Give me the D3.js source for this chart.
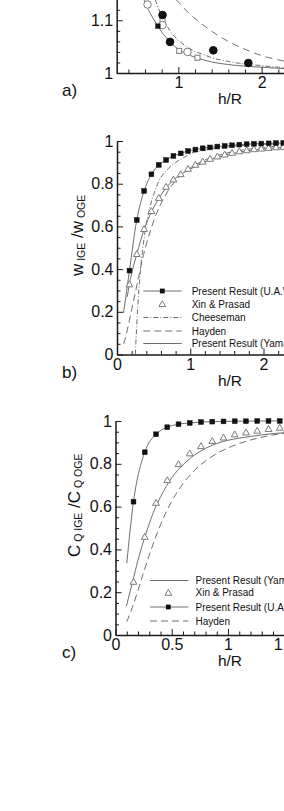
<!DOCTYPE html>
<html><head><meta charset="utf-8">
<script src="https://cdn.jsdelivr.net/npm/d3@7"></script>
<style>
body{margin:0;background:#fff;overflow:hidden}
svg{display:block}
text{font-family:"Liberation Sans",Arial,Helvetica,sans-serif;fill:#111}
</style>
</head><body>
<svg id="fig" width="284" height="811"></svg>
<script>
// ---------- Panel a) data ----------
const aSolidX = [0.58,0.62,0.66,0.70,0.75,0.80,0.85,0.90,1.00,1.10,1.20,1.30,1.40,1.60,1.80,2.00,2.20,2.36];
const aSolidY = [1.142,1.127,1.114,1.103,1.090,1.078,1.068,1.059,1.045,1.036,1.030,1.025,1.021,1.016,1.013,1.011,1.009,1.008];
const aDashDotX = [0.72,0.78,0.85,0.90,1.00,1.10,1.20,1.30,1.40,1.60,1.80,2.00,2.20,2.36];
const aDashDotY = [1.140,1.115,1.093,1.080,1.062,1.050,1.041,1.035,1.029,1.022,1.017,1.014,1.011,1.010];
const aDashX = [0.97,1.05,1.15,1.25,1.35,1.45,1.60,1.80,2.00,2.20,2.36];
const aDashY = [1.140,1.126,1.110,1.097,1.085,1.074,1.060,1.045,1.033,1.025,1.020];
const aFilledCircleX = [0.81,0.90,1.42,1.84];
const aFilledCircleY = [1.110,1.059,1.043,1.019];
const aFilledSquareX = [0.755];
const aFilledSquareY = [1.089];
const aOpenCircleX = [0.63,0.81,1.11];
const aOpenCircleY = [1.130,1.091,1.040];
const aOpenSquareX = [0.81,1.01,1.23];
const aOpenSquareY = [1.100,1.042,1.029];
const aXMajor = [1,2], aXLabels = ["1","2"];
const aXMinor = [0.4,0.6,0.8,1.2,1.4,1.6,1.8,2.2];
const aYMajor = [1,1.1], aYLabels = ["1","1.1"];
const aYMinor = [1.02,1.04,1.06,1.08,1.12];

// ---------- Panel b) data ----------
const bX = [0.17,0.27,0.37,0.47,0.57,0.67,0.77,0.87,0.97,1.07,1.17,1.27,1.37,1.47,1.57,1.67,1.77,1.87,1.97,2.07,2.17,2.27];
const bUavY = [0.393,0.630,0.766,0.844,0.888,0.911,0.930,0.942,0.953,0.960,0.966,0.970,0.974,0.977,0.980,0.983,0.985,0.987,0.988,0.989,0.990,0.991];
const bUavStartX = [0.09], bUavStartY = [0.195];
const bXinY = [0.329,0.471,0.588,0.672,0.734,0.786,0.820,0.845,0.870,0.889,0.904,0.917,0.928,0.937,0.945,0.952,0.957,0.962,0.965,0.968,0.971,0.973];
const bYamaX = [0.14,0.17,0.27,0.37,0.47,0.57,0.67,0.80,1.00,1.20,1.40,1.60,1.80,2.00,2.36];
const bYamaY = [0.27,0.33,0.47,0.585,0.668,0.730,0.780,0.826,0.868,0.902,0.926,0.943,0.955,0.963,0.972];
const bCheeseX = [0.25,0.27,0.30,0.35,0.40,0.45,0.50,0.60,0.70,0.80,0.90,1.00,1.20,1.40,1.60,1.80,2.00,2.36];
const bCheeseY = [0.0,0.14,0.31,0.49,0.61,0.69,0.75,0.83,0.87,0.90,0.92,0.94,0.957,0.968,0.976,0.981,0.984,0.988];
const bHaydenX = [0.09,0.12,0.15,0.20,0.25,0.30,0.35,0.40,0.50,0.60,0.70,0.80,0.90,1.00,1.20,1.40,1.60,1.80,2.00,2.36];
const bHaydenY = [0.05,0.085,0.13,0.21,0.29,0.37,0.45,0.515,0.625,0.707,0.768,0.813,0.848,0.874,0.911,0.935,0.951,0.962,0.970,0.979];
const bXMajor = [0,1,2], bXLabels = ["0","1","2"];
const bXMinor = [0.2,0.4,0.6,0.8,1.2,1.4,1.6,1.8,2.2];
const yMajor01 = [0,0.2,0.4,0.6,0.8,1], yLabels01 = ["0","0.2","0.4","0.6","0.8","1"];
const yMinor01 = [0.05,0.1,0.15,0.25,0.3,0.35,0.45,0.5,0.55,0.65,0.7,0.75,0.85,0.9,0.95];
const bLegend = ["Present Result (U.A.V.)","Xin & Prasad","Cheeseman","Hayden","Present Result (Yamaguchi)"];

// ---------- Panel c) data ----------
const cX = [0.16,0.26,0.36,0.46,0.56,0.66,0.76,0.86,0.96,1.06,1.16,1.26,1.36,1.46];
const cUavY = [0.623,0.854,0.938,0.971,0.985,0.991,0.995,0.997,0.998,0.999,0.999,1.0,1.0,1.0];
const cUavStartX = [0.10], cUavStartY = [0.335];
const cXinY = [0.249,0.459,0.618,0.724,0.799,0.849,0.883,0.907,0.923,0.938,0.947,0.955,0.963,0.969];
const cYamaX = [0.097,0.15,0.20,0.25,0.30,0.35,0.40,0.50,0.60,0.70,0.80,0.90,1.00,1.10,1.20,1.30,1.40,1.56];
const cYamaY = [0.135,0.245,0.35,0.44,0.52,0.59,0.645,0.735,0.795,0.840,0.872,0.895,0.910,0.920,0.928,0.935,0.941,0.947];
const cHaydenX = [0.10,0.15,0.20,0.25,0.30,0.35,0.40,0.50,0.60,0.70,0.80,0.90,1.00,1.20,1.40,1.56];
const cHaydenY = [0.062,0.129,0.209,0.293,0.373,0.448,0.515,0.625,0.707,0.768,0.813,0.848,0.874,0.911,0.935,0.947];
const cXMajor = [0,0.5,1,1.5], cXLabels = ["0","0.5","1","1.5"];
const cXMinor = [0.1,0.2,0.3,0.4,0.6,0.7,0.8,0.9,1.1,1.2,1.3,1.4];
const cLegend = ["Present Result (Yamaguchi)","Xin & Prasad","Present Result (U.A.V.)","Hayden"];

// ---------- styles ----------
const LINE = "#6e6e6e", OPEN = "#7a7a7a", FILL = "#111", AX = "#1a1a1a";
const DASH = "7,4", DASHDOT = "5,2,1,2";
const TICKFONT = "16px";
const LEGFONT = "10px";

const svg = d3.select("#fig");
const pts = (xs, ys) => xs.map((d, i) => [d, ys[i]]);

function makePanel(o) {
  const g = svg.append("g");
  const x = d3.scaleLinear().domain(o.xd).range(o.xr);
  const y = d3.scaleLinear().domain(o.yd).range(o.yr);
  const id = "clip" + o.name;
  svg.append("clipPath").attr("id", id).append("rect")
    .attr("x", o.xr[0]).attr("y", Math.min(o.yr[1], 0) - 2)
    .attr("width", 300).attr("height", o.yr[0] - Math.min(o.yr[1], 0) + 2);
  const plot = g.append("g").attr("clip-path", `url(#${id})`);
  const ln = d3.line().x(d => x(d[0])).y(d => y(d[1])).curve(d3.curveMonotoneX);
  const P = {
    x, y, g, plot,
    line(xs, ys, dash) {
      plot.append("path").datum(pts(xs, ys)).attr("d", ln)
        .attr("fill", "none").attr("stroke", LINE).attr("stroke-width", 1)
        .attr("stroke-dasharray", dash || null);
    },
    squares(xs, ys, s, filled) {
      g.append("g").selectAll("rect").data(pts(xs, ys)).join("rect")
        .attr("x", d => x(d[0]) - s / 2).attr("y", d => y(d[1]) - s / 2)
        .attr("width", s).attr("height", s)
        .attr("fill", filled ? FILL : "#fff").attr("stroke", filled ? FILL : OPEN).attr("stroke-width", filled ? 0.5 : 1);
    },
    symbols(xs, ys, type, size, filled, dyc) {
      g.append("g").selectAll("path").data(pts(xs, ys)).join("path")
        .attr("transform", d => `translate(${x(d[0])},${y(d[1]) + (dyc || 0)})`)
        .attr("d", d3.symbol().type(type).size(size)())
        .attr("fill", filled ? FILL : "#fff").attr("stroke", filled ? FILL : OPEN).attr("stroke-width", 1);
    }
  };
  // axes
  const ax = g.append("g").attr("transform", `translate(0,${o.yr[0]})`);
  ax.call(d3.axisBottom(x).tickValues(o.xMajor).tickFormat((d, i) => o.xLabels[i])
    .tickSizeInner(-6).tickSizeOuter(0).tickPadding(4));
  ax.append("g").call(d3.axisBottom(x).tickValues(o.xMinor).tickFormat("").tickSizeInner(-3.5).tickSizeOuter(0))
    .select(".domain").remove();
  const ay = g.append("g").attr("transform", `translate(${o.xr[0]},0)`);
  ay.call(d3.axisLeft(y).tickValues(o.yMajor).tickFormat((d, i) => o.yLabels[i])
    .tickSizeInner(-6).tickSizeOuter(0).tickPadding(3.5));
  ay.append("g").call(d3.axisLeft(y).tickValues(o.yMinor).tickFormat("").tickSizeInner(-3.5).tickSizeOuter(0))
    .select(".domain").remove();
  g.selectAll(".domain").attr("stroke", AX).attr("stroke-width", 1.5);
  g.selectAll(".tick line").attr("stroke", AX).attr("stroke-width", 1);
  g.selectAll(".tick text").attr("font-size", TICKFONT).attr("fill", "#111")
    .attr("font-family", '"Liberation Sans",Arial,sans-serif');
  // h/R label and panel letter
  g.append("text").attr("x", 230).attr("y", o.yr[0] + 31).attr("text-anchor", "middle")
    .attr("font-size", "15.5px").text("h/R");
  g.append("text").attr("x", 62).attr("y", o.yr[0] + 23).attr("font-size", "17px").text(o.letter);
  return P;
}

// ---------- Panel a ----------
const A = makePanel({name: "a", letter: "a)",
  xd: [0.26, 2.4], xr: [116.7, 116.7 + 2.14 * 83.3],
  yd: [1, 1.14], yr: [73, 73 - 0.14 * 527],
  xMajor: aXMajor, xLabels: aXLabels, xMinor: aXMinor,
  yMajor: aYMajor, yLabels: aYLabels, yMinor: aYMinor});
A.line(aDashX, aDashY, "7,5");
A.line(aDashDotX, aDashDotY, DASHDOT);
A.line(aSolidX, aSolidY);
A.squares(aOpenSquareX, aOpenSquareY, 5, false);
A.symbols(aOpenCircleX, aOpenCircleY, d3.symbolCircle, 44, false);
A.symbols(aFilledCircleX, aFilledCircleY, d3.symbolCircle, 46, true);
A.squares(aFilledSquareX, aFilledSquareY, 4.5, true);

// ---------- Panel b ----------
const B = makePanel({name: "b", letter: "b)",
  xd: [0, 2.4], xr: [117, 117 + 2.4 * 73.25],
  yd: [0, 1], yr: [354.5, 141],
  xMajor: bXMajor, xLabels: bXLabels, xMinor: bXMinor,
  yMajor: yMajor01, yLabels: yLabels01, yMinor: yMinor01});
B.line(bHaydenX, bHaydenY, DASH);
B.line(bCheeseX, bCheeseY, DASHDOT);
B.line(bYamaX, bYamaY);
B.line(bUavStartX.concat(bX), bUavStartY.concat(bUavY));
B.symbols(bX, bXinY, d3.symbolTriangle, 20, false, 0.6);
B.squares(bX, bUavY, 4.8, true);
// legend b
{
  const rows = [291, 304, 317.5, 331, 343.5];
  const lx0 = 143.3, lx1 = 181.7, mx = 162.3, tx = 191.7;
  const lg = B.g.append("g");
  const kinds = ["sq", "tri", "dd", "dash", "solid"];
  kinds.forEach((k, i) => {
    const yy = rows[i];
    if (k !== "tri") lg.append("line").attr("x1", lx0).attr("x2", lx1).attr("y1", yy).attr("y2", yy)
      .attr("stroke", LINE).attr("stroke-width", 1)
      .attr("stroke-dasharray", k === "dd" ? DASHDOT : k === "dash" ? DASH : null);
    if (k === "sq") lg.append("rect").attr("x", mx - 2.4).attr("y", yy - 2.4).attr("width", 4.8).attr("height", 4.8).attr("fill", FILL);
    if (k === "tri") lg.append("path").attr("transform", `translate(${mx},${yy + 0.6})`)
      .attr("d", d3.symbol().type(d3.symbolTriangle).size(20)()).attr("fill", "#fff").attr("stroke", OPEN);
    lg.append("text").attr("x", tx).attr("y", yy + 3.6).attr("font-size", LEGFONT).text(bLegend[i]);
  });
}
// y title b
{
  const t = B.g.append("text").attr("transform", "translate(83,276) rotate(-90)").attr("font-size", "17px");
  t.append("tspan").text("w");
  t.append("tspan").attr("font-size", "10.5px").attr("dy", 2).text(" IGE");
  t.append("tspan").attr("dy", -2).text(" /w");
  t.append("tspan").attr("font-size", "10.5px").attr("dy", 2).text(" OGE");
}

// ---------- Panel c ----------
const C = makePanel({name: "c", letter: "c)",
  xd: [0, 1.6], xr: [115.5, 115.5 + 1.6 * 112.5],
  yd: [0, 1], yr: [635, 421],
  xMajor: cXMajor, xLabels: cXLabels, xMinor: cXMinor,
  yMajor: yMajor01, yLabels: yLabels01, yMinor: yMinor01});
C.line(cHaydenX, cHaydenY, DASH);
C.line(cYamaX, cYamaY);
C.line(cUavStartX.concat(cX), cUavStartY.concat(cUavY));
C.symbols(cX, cXinY, d3.symbolTriangle, 20, false, 0.6);
C.squares(cX, cUavY, 4.8, true);
// legend c
{
  const rows = [580.5, 592.7, 607, 621];
  const lx0 = 150, lx1 = 188.3, mx = 168.3, tx = 195.5;
  const lg = C.g.append("g");
  const kinds = ["solid", "tri", "sq", "dash"];
  kinds.forEach((k, i) => {
    const yy = rows[i];
    if (k !== "tri") lg.append("line").attr("x1", lx0).attr("x2", lx1).attr("y1", yy).attr("y2", yy)
      .attr("stroke", LINE).attr("stroke-width", 1)
      .attr("stroke-dasharray", k === "dash" ? DASH : null);
    if (k === "sq") lg.append("rect").attr("x", mx - 2.4).attr("y", yy - 2.4).attr("width", 4.8).attr("height", 4.8).attr("fill", FILL);
    if (k === "tri") lg.append("path").attr("transform", `translate(${mx},${yy + 0.6})`)
      .attr("d", d3.symbol().type(d3.symbolTriangle).size(20)()).attr("fill", "#fff").attr("stroke", OPEN);
    lg.append("text").attr("x", tx).attr("y", yy + 3.6).attr("font-size", LEGFONT).text(cLegend[i]);
  });
}
// y title c
{
  const t = C.g.append("text").attr("transform", "translate(80,557) rotate(-90)").attr("font-size", "17px");
  t.append("tspan").text("C");
  t.append("tspan").attr("font-size", "10.5px").attr("dy", 2).text(" Q IGE");
  t.append("tspan").attr("dy", -2).text(" /C");
  t.append("tspan").attr("font-size", "10.5px").attr("dy", 2).text(" Q OGE");
}
</script>
</body></html>
